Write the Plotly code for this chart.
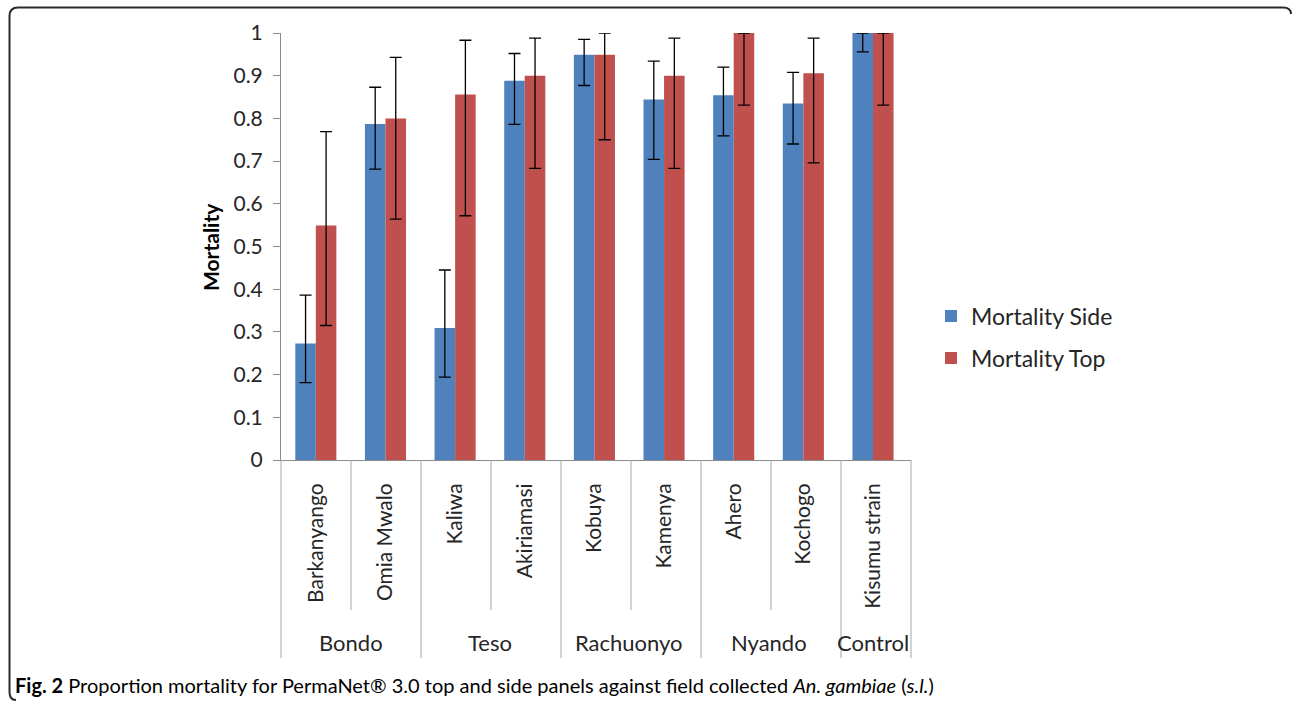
import plotly.graph_objects as go

# Sites, grouped by district
sites = ["Barkanyango", "Omia Mwalo", "Kaliwa", "Akiriamasi", "Kobuya",
         "Kamenya", "Ahero", "Kochogo", "Kisumu strain"]
districts = ["Bondo", "Teso", "Rachuonyo", "Nyando", "Control"]
district_sizes = [2, 2, 2, 2, 1]

# Proportion mortality with 95% CI bounds
side = [0.273, 0.787, 0.309, 0.888, 0.949, 0.844, 0.854, 0.835, 1.0]
side_lo = [0.181, 0.681, 0.194, 0.786, 0.877, 0.704, 0.759, 0.740, 0.956]
side_hi = [0.386, 0.873, 0.445, 0.952, 0.985, 0.934, 0.920, 0.908, 1.0]

top = [0.549, 0.800, 0.856, 0.900, 0.949, 0.900, 1.0, 0.906, 1.0]
top_lo = [0.315, 0.564, 0.572, 0.683, 0.750, 0.683, 0.831, 0.696, 0.831]
top_hi = [0.769, 0.943, 0.983, 0.988, 1.0, 0.988, 1.0, 0.988, 1.0]

BLUE = "#4F81BD"
RED = "#C0504D"
AXIS = "#8C8C8C"
TXT = "#262626"
FONT = "Lato"

W, H = 1292, 701
PL, PR, PT, PB = 281, 911, 33, 460


def px_x(p):
    return (p - PL) / (PR - PL)


def px_y(p):
    return (PB - p) / (PB - PT)


def err(vals, lo, hi):
    return dict(type="data", symmetric=False,
                array=[h - v for v, h in zip(vals, hi)],
                arrayminus=[v - l for v, l in zip(vals, lo)],
                color="black", thickness=1.3, width=6)


fig = go.Figure()
fig.add_trace(go.Bar(x=sites, y=side, name="Mortality Side", marker_color=BLUE,
                     marker_line_width=0, error_y=err(side, side_lo, side_hi),
                     cliponaxis=False, legend="legend", showlegend=True))
fig.add_trace(go.Bar(x=sites, y=top, name="Mortality Top", marker_color=RED,
                     marker_line_width=0, error_y=err(top, top_lo, top_hi),
                     cliponaxis=False, legend="legend2", showlegend=True))

n = len(sites)
shapes = []
# boundaries between sites (short) and between districts (long)
group_edges = [0]
for s in district_sizes:
    group_edges.append(group_edges[-1] + s)
for b in range(n + 1):
    long_line = b in group_edges
    shapes.append(dict(type="line", xref="x domain", yref="paper",
                       x0=b / n, x1=b / n, y0=0,
                       y1=px_y(658 if long_line else 610),
                       line=dict(color="#A6A6A6", width=1)))

# outer frame of the figure panel
frame = (f"M {px_x(1291)},{px_y(14)} Q {px_x(1291)},{px_y(7.5)} {px_x(1283)},{px_y(7.5)} "
         f"L {px_x(18)},{px_y(7.5)} Q {px_x(9.5)},{px_y(7.5)} {px_x(9.5)},{px_y(16)} "
         f"L {px_x(9.5)},{px_y(692)} Q {px_x(9.5)},{px_y(700)} {px_x(16)},{px_y(700)}")
shapes.append(dict(type="path", xref="paper", yref="paper", path=frame,
                   line=dict(color="#2B2B2B", width=2)))

annotations = []
start = 0
for name, s in zip(districts, district_sizes):
    annotations.append(dict(x=start + (s - 1) / 2, y=px_y(642), xref="x", yref="paper",
                            text=name, showarrow=False, xanchor="center", yanchor="middle",
                            font=dict(family=FONT, size=22, color=TXT)))
    start += s

annotations.append(dict(x=px_x(210), y=px_y(247), xref="paper", yref="paper",
                        text="<b>Mortality</b>", textangle=-90, showarrow=False,
                        xanchor="center", yanchor="middle",
                        font=dict(family=FONT, size=21, color="black")))

annotations.append(dict(x=px_x(13), y=px_y(685), xref="paper", yref="paper",
                        text="<b>Fig. 2</b> Proportion mortality for PermaNet® 3.0 top and side "
                             "panels against field collected <i>An. gambiae</i> (<i>s.l.</i>)",
                        showarrow=False, xanchor="left", yanchor="middle",
                        font=dict(family=FONT, size=20, color="black")))

fig.update_layout(
    width=W, height=H,
    margin=dict(l=PL, r=W - PR, t=PT, b=H - PB),
    paper_bgcolor="white", plot_bgcolor="white",
    barmode="group", bargap=0.41, bargroupgap=0,
    font=dict(family=FONT, color=TXT),
    showlegend=True,
    legend=dict(x=px_x(931), y=px_y(316), xanchor="left", yanchor="middle",
                font=dict(family=FONT, size=23, color=TXT), bgcolor="rgba(0,0,0,0)"),
    legend2=dict(x=px_x(931), y=px_y(358), xanchor="left", yanchor="middle",
                 font=dict(family=FONT, size=23, color=TXT), bgcolor="rgba(0,0,0,0)"),
    shapes=shapes,
    annotations=annotations,
)
fig.update_xaxes(type="category", categoryorder="array", categoryarray=sites,
                 showline=True, linecolor=AXIS, linewidth=1, ticks="",
                 tickangle=-90, tickfont=dict(family=FONT, size=21, color=TXT),
                 ticklabelstandoff=14, showgrid=False, zeroline=False)
fig.update_yaxes(range=[0, 1], dtick=0.1, showline=True, linecolor=AXIS, linewidth=1,
                 ticks="outside", ticklen=7, tickcolor=AXIS,
                 tickfont=dict(family=FONT, size=21, color=TXT),
                 ticklabelstandoff=6, showgrid=False, zeroline=False)

fig.write_html("out.html")
